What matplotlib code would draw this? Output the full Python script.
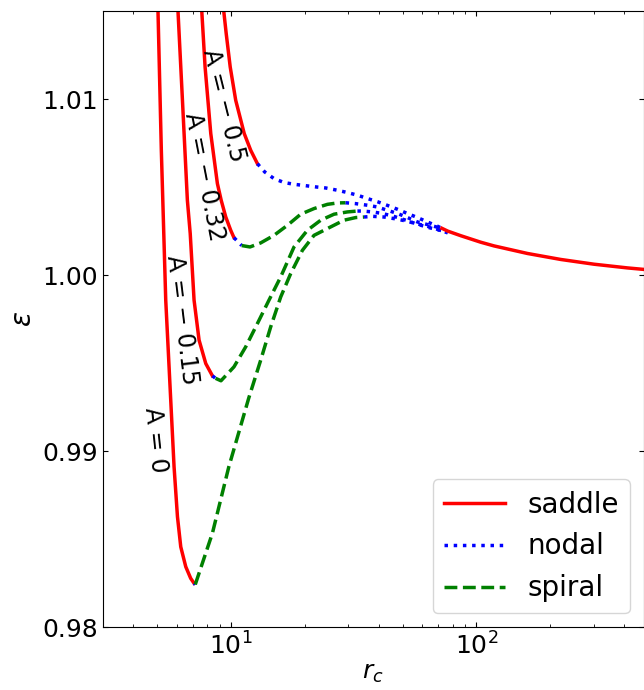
import matplotlib
matplotlib.use("Agg")
import matplotlib.pyplot as plt

plt.rcParams['font.family'] = ['DejaVu Sans']
plt.rcParams['font.size'] = 16

# ---------------- data ----------------
# A = -0.5
a05_saddle_x = [9.30, 9.34, 9.56, 9.925, 10.45, 11.32, 12.03, 12.81]
a05_saddle_e = [1.0155, 1.0150, 1.01371, 1.01182, 1.00993, 1.00804, 1.00709, 1.00633]
a05_nodal_x = [12.81, 13.72, 14.97, 16.44, 18.06, 19.84, 22.14, 24.32, 27.14, 29.81,
               32.74, 35.96, 39.51, 43.39, 47.66, 52.35, 57.50, 63.15, 69.37, 72.3]
a05_nodal_e = [1.00633, 1.00586, 1.00548, 1.00526, 1.00516, 1.00509, 1.00501, 1.00495,
               1.00482, 1.00469, 1.00454, 1.00435, 1.00417, 1.00396, 1.00374, 1.00350,
               1.00327, 1.00302, 1.00278, 1.00266]

# A = -0.32
a032_saddle_x = [7.55, 7.60, 7.84, 8.27, 8.80, 9.12, 9.52, 9.97, 10.28]
a032_saddle_e = [1.0155, 1.0150, 1.01182, 1.00804, 1.00520, 1.00425, 1.00330, 1.00255, 1.00213]
a032_node1_x = [10.28, 11.05]
a032_node1_e = [1.00213, 1.00168]
a032_spiral_x = [11.05, 11.95, 13.21, 14.97, 16.98, 19.23, 21.79, 24.71, 27.14, 29.3]
a032_spiral_e = [1.00168, 1.00160, 1.00183, 1.00226, 1.00283, 1.00346, 1.00378, 1.00402,
                 1.00410, 1.00411]
a032_nodal_x = [29.3, 32.22, 35.96, 39.5, 43.4, 47.7, 52.4, 57.5, 63.2, 69.4, 72.3]
a032_nodal_e = [1.00411, 1.00406, 1.00397, 1.00387, 1.00368, 1.00350, 1.00327, 1.00302,
                1.00287, 1.00272, 1.00266]

# A = -0.15
a015_saddle_x = [6.03, 6.08, 6.34, 6.64, 6.82, 7.07, 7.41, 7.89, 8.40]
a015_saddle_e = [1.0155, 1.0150, 1.00993, 1.00425, 1.00236, 0.99858, 0.99631, 0.99498, 0.99428]
a015_node1_x = [8.40, 8.65]
a015_node1_e = [0.99428, 0.99414]
a015_spiral_x = [8.65, 9.1, 10.28, 11.48, 12.81, 14.28, 15.94, 18.06, 20.48, 23.21,
                 26.29, 29.81, 32.74]
a015_spiral_e = [0.99414, 0.99400, 0.99479, 0.99593, 0.99725, 0.99858, 0.99990, 1.00160,
                 1.00255, 1.00312, 1.00346, 1.00359, 1.00364]
a015_nodal_x = [32.74, 34.31, 37.70, 41.40, 46.0, 51.51, 57.50, 63.15, 69.37, 76.4]
a015_nodal_e = [1.00364, 1.00364, 1.00359, 1.00350, 1.00334, 1.00312, 1.00289, 1.00272,
                1.00258, 1.00245]

# A = 0
a0_saddle_x = [5.03, 5.04, 5.20, 5.42, 5.68, 5.86, 6.05, 6.24, 6.54, 6.85, 7.07]
a0_saddle_e = [1.0155, 1.0150, 1.0071, 0.99858, 0.99290, 0.98912, 0.98628, 0.98457,
               0.98344, 0.98278, 0.98250]
a0_node1_x = [7.07, 7.15]
a0_node1_e = [0.98250, 0.98243]
a0_spiral_x = [7.15, 7.72, 8.40, 9.79, 11.8, 13.21, 14.51, 15.94, 17.51, 19.54, 21.79,
               25.49, 28.87, 32.22, 34.83]
a0_spiral_e = [0.98243, 0.98382, 0.98535, 0.98910, 0.99300, 0.99517, 0.99706, 0.99876,
               1.00009, 1.00141, 1.00226, 1.00274, 1.00312, 1.00327, 1.00330]
a0_nodal_x = [34.83, 37.70, 42.03, 46.15, 51.51, 56.57, 62.17, 69.37, 76.4]
a0_nodal_e = [1.00330, 1.00334, 1.00330, 1.00321, 1.00308, 1.00293, 1.00280, 1.00260, 1.00240]

# common large-r saddle branch
far_x = [72.3, 76.4, 86.3, 104.1, 117.9, 161.4, 220.6, 301.5, 412.4, 485.0]
far_e = [1.00266, 1.00250, 1.00224, 1.00187, 1.00166, 1.00123, 1.00089, 1.00062,
         1.00041, 1.00032]

labels = ['A = \u2212 0.5', 'A = \u2212 0.32', 'A = \u2212 0.15', 'A = 0']
label_x = [9.37, 7.76, 6.30, 4.94]
label_e = [1.00964, 1.00557, 0.99744, 0.99063]
label_rot = [-76, -79, -83, -84]

yticks = [0.98, 0.99, 1.00, 1.01]

# ---------------- plot ----------------
fig = plt.figure(figsize=(6.44, 6.90), dpi=100)
ax = fig.add_axes([102.7 / 644, 1 - 627.3 / 690, (643.6 - 102.7) / 644, (627.3 - 11) / 690])

RED = dict(color='red', lw=2.5, ls='-')
BLUE = dict(color='blue', lw=2.5, ls=':')
GREEN = dict(color='green', lw=2.5, ls='--')

for xs, es in [(a05_saddle_x, a05_saddle_e), (a032_saddle_x, a032_saddle_e),
               (a015_saddle_x, a015_saddle_e), (a0_saddle_x, a0_saddle_e)]:
    ax.plot(xs, es, **RED)

for xs, es in [(a032_node1_x, a032_node1_e), (a015_node1_x, a015_node1_e),
               (a0_node1_x, a0_node1_e)]:
    ax.plot(xs, es, **BLUE)

for xs, es in [(a032_spiral_x, a032_spiral_e), (a015_spiral_x, a015_spiral_e),
               (a0_spiral_x, a0_spiral_e)]:
    ax.plot(xs, es, **GREEN)

for xs, es in [(a05_nodal_x, a05_nodal_e), (a032_nodal_x, a032_nodal_e),
               (a015_nodal_x, a015_nodal_e), (a0_nodal_x, a0_nodal_e)]:
    ax.plot(xs, es, **BLUE)

ax.plot(far_x, far_e, **RED)

ax.plot([], [], label='saddle', **RED)
ax.plot([], [], label='nodal', **BLUE)
ax.plot([], [], label='spiral', **GREEN)

for t, x, e, r in zip(labels, label_x, label_e, label_rot):
    ax.text(x, e, t, rotation=r, ha='center', va='center', fontsize=17,
            rotation_mode='anchor')

ax.set_xscale('log')
ax.set_xlim(3, 480)
ax.set_ylim(0.98, 1.015)
ax.set_yticks(yticks)
ax.set_yticklabels([f'{v:.2f}' for v in yticks])
ax.tick_params(which='both', direction='in', top=True, right=True, labelsize=18)
ax.set_xlabel(r'$r_c$', fontsize=18, labelpad=1)
ax.set_ylabel(r'$\varepsilon$', fontsize=20)

ax.legend(loc='lower right', fontsize=20, handlelength=2.2)

fig.savefig('out.png', dpi=100)
